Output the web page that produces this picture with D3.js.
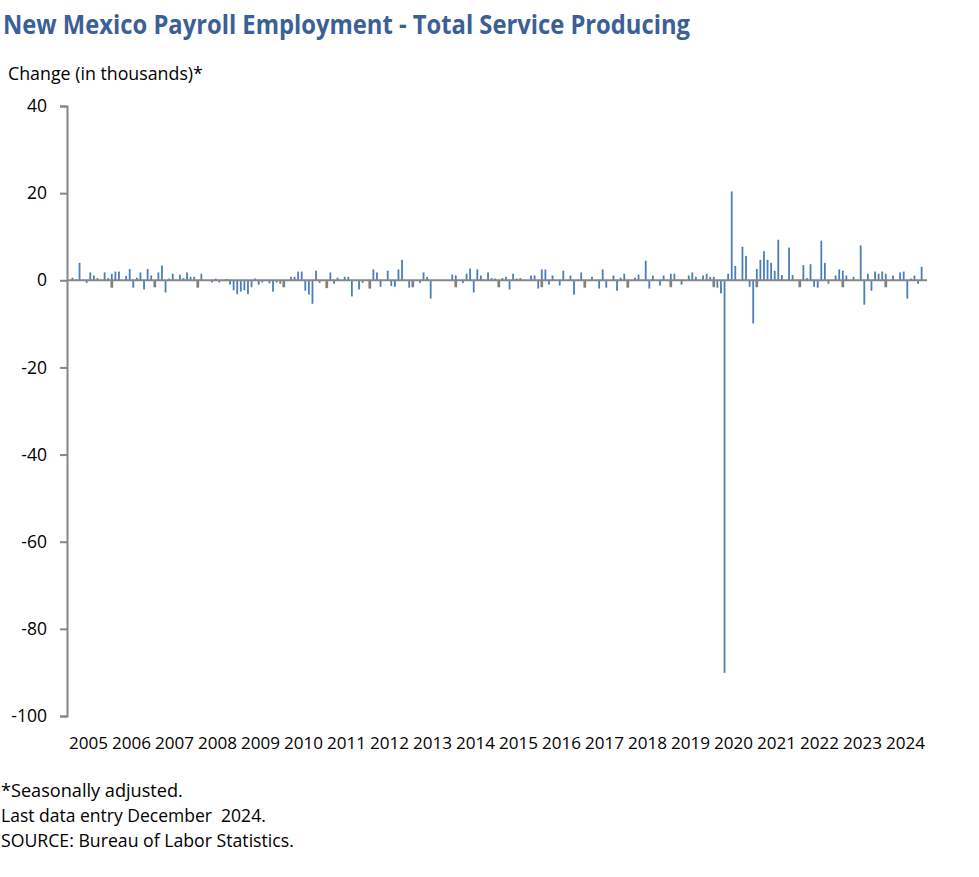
<!DOCTYPE html>
<html><head><meta charset="utf-8">
<script src="https://cdn.jsdelivr.net/npm/d3@7"></script>
<style>body{margin:0;background:#fff}svg text{white-space:pre}</style>
</head><body><svg id="c" width="979" height="877"></svg>
<script>
const years = ["2005","2006","2007","2008","2009","2010","2011","2012","2013","2014","2015","2016","2017","2018","2019","2020","2021","2022","2023","2024"];
const yTicks = [40,20,0,-20,-40,-60,-80,-100];
// Monthly change, thousands (Jan..Dec) — blue series
const v2005 = [0, 0.6, 0, 4.0, 0, -0.6, 1.8, 1.1, 0.5, 0, 1.8, 0.5];
const v2006 = [1.5, 2.0, 2.0, 0, 1.0, 2.6, -1.7, 0.6, 1.8, -2.1, 2.6, 1.1];
const v2007 = [0, 1.8, 3.4, -2.8, 0.4, 1.5, 0, 1.3, 0.5, 1.8, 0.8, 0.8];
const v2008 = [0, 1.5, 0, 0, -0.5, 0.4, -0.5, 0, 0.3, -1.0, -2.3, -3.2];
const v2009 = [-2.6, -2.3, -3.2, -1.6, 0.4, -1.0, -0.5, 0, -0.7, -2.6, -0.5, -0.8];
const v2010 = [0, 0, 0.8, 0.8, 2.0, 2.0, -2.4, -3.3, -5.4, 2.2, -0.6, 0];
const v2011 = [0, 1.8, -0.8, 0.6, 0, 0.8, 0.8, -3.7, 0, -2.1, -0.6, 0];
const v2012 = [0, 2.5, 1.8, -1.5, 0, 2.2, -1.3, -1.5, 2.5, 4.7, 0, -1.7];
const v2013 = [0, 0, -0.6, 1.8, 0.8, -4.2, 0, 0, 0, 0, 0, 1.3];
const v2014 = [1.1, 0, -0.6, 1.5, 2.7, -2.8, 2.5, 1.1, 0, 1.8, 0.5, 0.4];
const v2015 = [0, 0.5, 0.8, -2.1, 1.5, 0.4, 0.5, 0, 0, 1.1, 1.1, -1.9];
const v2016 = [2.5, 2.5, -1.0, 1.1, 0, -1.2, 2.2, 0, 1.1, -3.3, 0, 1.8];
const v2017 = [0, 0, 0.8, 0, -1.9, 2.5, -1.7, 0, 1.1, -2.4, 0.6, 1.5];
const v2018 = [0, 0, 0.6, 1.3, 0, 4.5, -1.9, 1.1, 0, -1.2, 1.1, 0];
const v2019 = [1.5, 1.5, 0, -1.0, 0, 1.1, 1.8, 0.8, 0, 1.1, 1.5, 0.8];
const v2020 = [0.8, -1.7, -3.0, -90.1, 1.5, 20.4, 3.3, 0, 7.7, 5.6, -1.5, -9.9];
const v2021 = [2.6, 4.7, 6.7, 4.7, 4.0, 2.2, 9.3, 1.2, 0, 7.5, 1.2, 0];
const v2022 = [0, 3.5, 0.5, 3.7, -1.5, -1.7, 9.1, 4.0, -0.8, 0, 1.1, 2.5];
const v2023 = [2.2, 1.1, 0, 0.8, 0, 8.0, -5.6, 1.5, -2.4, 2.0, 1.5, 2.0];
const v2024 = [1.5, 0, 1.1, 0, 1.8, 2.0, -4.2, 0.4, 1.1, -0.8, 3.1, 0];
// January gray series (one per year)
const janGray = [0, -1.7, -1.6, -1.7, 0, -1.6, -1.8, -1.9, -1.6, -1.6, -1.6, -1.6, -1.7, -1.7, -1.6, -1.6, -1.6, -1.6, -1.6, -1.6];

const blueVals = [v2005,v2006,v2007,v2008,v2009,v2010,v2011,v2012,v2013,v2014,v2015,v2016,v2017,v2018,v2019,v2020,v2021,v2022,v2023,v2024];
const months = [];
const blue = [];
years.forEach((yr, yi) => {
  blueVals[yi].forEach((v, m) => {
    const key = yr + "-" + String(m + 1).padStart(2, "0");
    months.push(key);
    blue.push({key, v});
  });
});
const gray = years.map((yr, yi) => ({key: yr + "-01", v: janGray[yi]}));

const svg = d3.select("#c");
const FONT = "'Open Sans', sans-serif";
const L = 67, R = 927, T = 106, B = 716;

const x = d3.scaleBand().domain(months).range([L, R]).padding(0);
const xYear = d3.scaleBand().domain(years).range([L, R]).padding(0);
const y = d3.scaleLinear().domain([-100, 40]).range([B, T]);

function fit(sel, w) {
  const n = sel.node();
  const cur = n.getComputedTextLength();
  const fs = parseFloat(sel.attr("font-size"));
  sel.attr("font-size", (fs * w / cur).toFixed(2));
}

// Title
const title = svg.append("text").attr("x", 3).attr("y", 34)
  .attr("font-family", "'Open Sans', sans-serif").attr("font-weight", 700)
  .attr("font-size", 27).attr("fill", "#3B6096")
  .text("New Mexico Payroll Employment - Total Service Producing");
title.attr("textLength", 687).attr("lengthAdjust", "spacingAndGlyphs");

const ylab = svg.append("text").attr("x", 8).attr("y", 80)
  .attr("font-family", FONT).attr("font-size", 17).attr("fill", "#000")
  .text("Change (in thousands)*");
fit(ylab, 195);

// Bars
const bw = x.bandwidth();
svg.append("g").selectAll("rect").data(blue.filter(d => d.v !== 0)).join("rect")
  .attr("x", d => x(d.key) + bw * 0.25)
  .attr("width", bw * 0.5)
  .attr("y", d => y(Math.max(0, d.v)))
  .attr("height", d => Math.abs(y(d.v) - y(0)))
  .attr("fill", "#4A7EBB");
svg.append("g").selectAll("rect").data(gray.filter(d => d.v !== 0)).join("rect")
  .attr("x", d => x(d.key) + bw * 0.12)
  .attr("width", bw * 0.76)
  .attr("y", d => y(Math.max(0, d.v)))
  .attr("height", d => Math.abs(y(d.v) - y(0)))
  .attr("fill", "#808080");

// Zero line
svg.append("line").attr("x1", L).attr("x2", R).attr("y1", y(0)).attr("y2", y(0))
  .attr("stroke", "#868686").attr("stroke-width", 2);

// Y axis
const ya = svg.append("g").attr("transform", `translate(${L},0)`)
  .call(d3.axisLeft(y).tickValues(yTicks).tickSize(7).tickPadding(13).tickFormat(d => String(d)));
ya.select(".domain").attr("stroke", "#868686").attr("stroke-width", 2);
ya.selectAll(".tick line").attr("stroke", "#868686").attr("stroke-width", 2);
ya.selectAll(".tick text").attr("font-family", FONT).attr("font-size", 17.5).attr("fill", "#000");

// X axis (years)
const xa = svg.append("g").attr("transform", `translate(0,${B})`)
  .call(d3.axisBottom(xYear).tickSize(0).tickPadding(21));
xa.select(".domain").remove();
xa.selectAll(".tick text").attr("font-family", FONT).attr("font-size", 16.5).attr("fill", "#000")
  .attr("textLength", 39).attr("lengthAdjust", "spacingAndGlyphs");

// Footer
const notes = ["*Seasonally adjusted.", "Last data entry December  2024.", "SOURCE: Bureau of Labor Statistics."];
const noteW = [182, 265, 293];
notes.forEach((t, i) => {
  const s = svg.append("text").attr("x", 1).attr("y", 797 + i * 25)
    .attr("font-family", FONT).attr("font-size", 17).attr("fill", "#000").text(t);
  fit(s, noteW[i]);
});
</script>
</body></html>
